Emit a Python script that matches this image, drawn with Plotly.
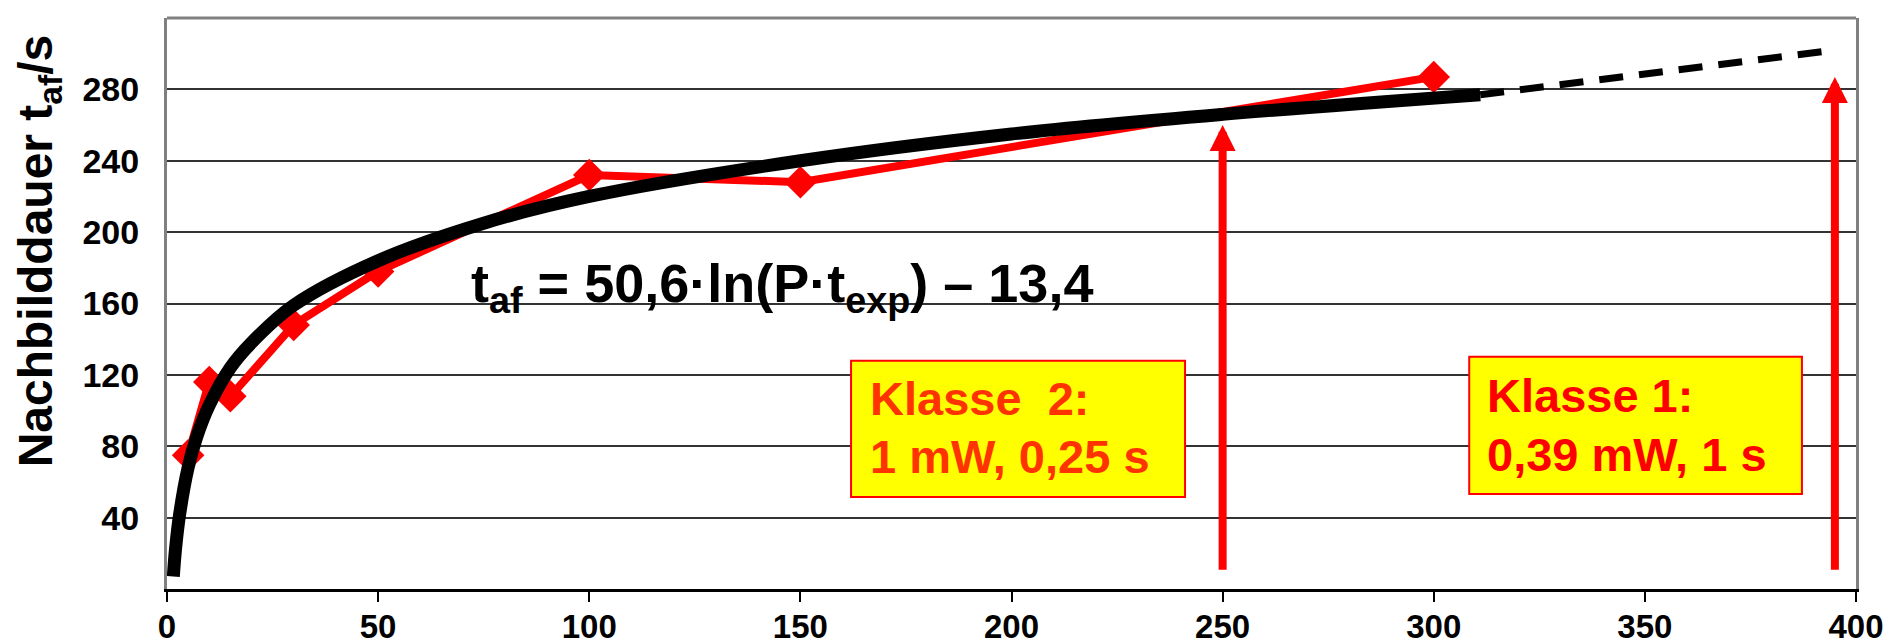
import plotly.graph_objects as go

# ---- data ----
meas_x = [5, 10, 15, 30, 50, 100, 150, 300]
meas_y = [75, 116, 108, 148, 178, 232, 228, 287]

fit_x = [1.5, 2, 3, 5, 7, 10, 15, 20, 30, 50, 75, 100, 150, 200, 250, 311]
fit_y = [7, 22, 42, 68, 85, 103, 124, 138, 159, 184, 205, 220, 240, 255, 266, 277]

ext_x = [311, 395]
ext_y = [277, 302]

x_ticks = [0, 50, 100, 150, 200, 250, 300, 350, 400]
y_ticks = [40, 80, 120, 160, 200, 240, 280]

# limit arrows: class position, tail value, tip value
arrow_x = [250, 395]
arrow_tail = [10, 10]
arrow_tip = [260, 287]

box_line1 = ["Klasse  2:", "Klasse 1:"]
box_line2 = ["1 mW, 0,25 s", "0,39 mW, 1 s"]
box_color = ["#FF3300", "#FF0000"]
box_x0 = [162.0, 308.4]
box_x1 = [241.1, 387.2]
box_y0 = [51.6, 53.3]
box_y1 = [127.9, 130.2]
box_tx = [166.0, 312.2]
box_ty1 = [106.5, 108.5]
box_ty2 = [74.0, 75.2]

equation = "t<sub>af</sub> = 50,6·ln(P·t<sub>exp</sub>) – 13,4"
y_title = "Nachbilddauer t<sub>af</sub>/s"

FONT = "Liberation Sans, Arial, sans-serif"

fig = go.Figure()

fig.add_trace(go.Scatter(
    x=meas_x, y=meas_y, mode="lines+markers",
    line=dict(color="#FF0000", width=8),
    marker=dict(symbol="diamond", size=25, color="#FF0000"),
    showlegend=False, hoverinfo="skip"))

fig.add_trace(go.Scatter(
    x=fit_x, y=fit_y, mode="lines",
    line=dict(color="#000000", width=13, shape="spline", smoothing=1.0),
    showlegend=False, hoverinfo="skip"))

fig.add_trace(go.Scatter(
    x=ext_x, y=ext_y, mode="lines",
    line=dict(color="#000000", width=7, dash="24px,16px"),
    showlegend=False, hoverinfo="skip"))

shapes = []
# top border
shapes.append(dict(type="line", xref="paper", yref="paper", x0=0, x1=1, y0=1, y1=1,
                   line=dict(color="#808080", width=3)))
for i in range(len(box_line1)):
    shapes.append(dict(type="rect", xref="x", yref="y",
                       x0=box_x0[i], x1=box_x1[i], y0=box_y0[i], y1=box_y1[i],
                       fillcolor="#FFFF00", line=dict(color="#FF0000", width=2),
                       layer="above"))

annotations = []
for i in range(len(box_line1)):
    for txt, ty in ((box_line1[i], box_ty1[i]), (box_line2[i], box_ty2[i])):
        annotations.append(dict(x=box_tx[i], y=ty, xref="x", yref="y",
                                text="<b>" + txt + "</b>", showarrow=False,
                                xanchor="left", yanchor="middle", align="left",
                                font=dict(family=FONT, size=47, color=box_color[i])))
for i in range(len(arrow_x)):
    annotations.append(dict(x=arrow_x[i], y=arrow_tip[i], ax=arrow_x[i], ay=arrow_tail[i],
                            xref="x", yref="y", axref="x", ayref="y",
                            text="", showarrow=True, arrowhead=2, arrowsize=0.65,
                            arrowwidth=8, arrowcolor="#FF0000", standoff=0))
annotations.append(dict(x=71.5, y=169, xref="x", yref="y", text="<b>" + equation + "</b>",
                        showarrow=False, xanchor="left", yanchor="middle",
                        font=dict(family=FONT, size=54, color="#000000")))
annotations.append(dict(x=-0.0758, y=0.593, xref="paper", yref="paper",
                        text="<b>" + y_title + "</b>", textangle=-90, showarrow=False,
                        xanchor="center", yanchor="middle",
                        font=dict(family=FONT, size=48, color="#000000")))

fig.update_layout(
    template="none",
    width=1894, height=644,
    margin=dict(l=159, r=46, t=10, b=63, autoexpand=False),
    paper_bgcolor="white", plot_bgcolor="white",
    shapes=shapes, annotations=annotations,
    showlegend=False,
    xaxis=dict(range=[0, 400], tickvals=x_ticks, ticktext=["<b>%d</b>" % v for v in x_ticks],
               automargin=False,
               showgrid=False, zeroline=False, showline=True, linecolor="#000000", linewidth=3,
               ticks="outside", ticklen=10, tickwidth=1.5, tickcolor="#000000",
               ticklabelstandoff=-4,
               tickfont=dict(family=FONT, size=33, color="#000000")),
    yaxis=dict(range=[0, 320], tickvals=y_ticks, ticktext=["<b>%d</b>" % v for v in y_ticks],
               automargin=False,
               showgrid=True, gridcolor="#333333", gridwidth=1.5, zeroline=False,
               showline=True, linecolor="#808080", linewidth=3, mirror=True,
               ticks="", ticklabelstandoff=18,
               tickfont=dict(family=FONT, size=34, color="#000000")),
)

fig.write_html("out.html")
